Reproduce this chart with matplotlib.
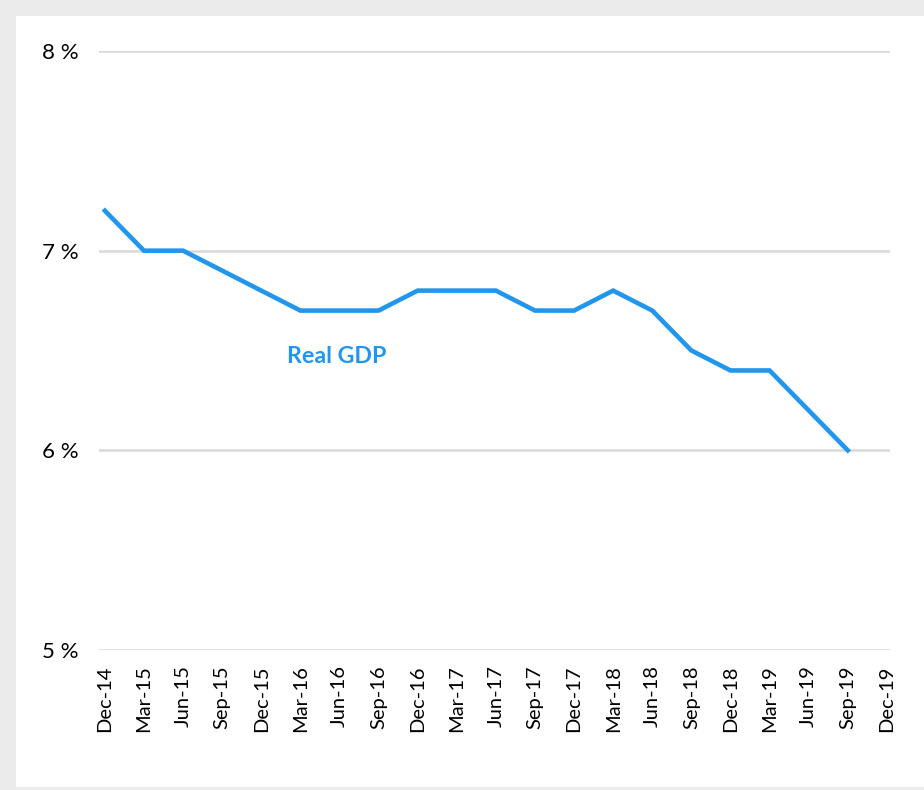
import matplotlib
matplotlib.use("Agg")
import matplotlib.pyplot as plt
from matplotlib.patches import Rectangle

quarters = ["Dec-14", "Mar-15", "Jun-15", "Sep-15", "Dec-15", "Mar-16", "Jun-16",
            "Sep-16", "Dec-16", "Mar-17", "Jun-17", "Sep-17", "Dec-17", "Mar-18",
            "Jun-18", "Sep-18", "Dec-18", "Mar-19", "Jun-19", "Sep-19", "Dec-19"]
real_gdp = [7.2, 7.0, 7.0, 6.9, 6.8, 6.7, 6.7, 6.7, 6.8, 6.8, 6.8, 6.7, 6.7,
            6.8, 6.7, 6.5, 6.4, 6.4, 6.2, 6.0]
y_ticks = [5, 6, 7, 8]

plt.rcParams['font.family'] = ['Lato', 'DejaVu Sans']
blue = '#2196ee'

fig = plt.figure(figsize=(9.24, 7.9), dpi=100)
fig.patch.set_facecolor('#ebebeb')
fig.patches.append(Rectangle((16 / 924, 3 / 790), 1, 771 / 790,
                             transform=fig.transFigure, facecolor='white',
                             edgecolor='none', zorder=-5))

ax = fig.add_axes([99 / 924, 1 - 650 / 790, 791 / 924, 599 / 790])
ax.set_zorder(2)
ax.set_facecolor('none')

x = list(range(len(real_gdp)))
ax.plot(x, real_gdp, color=blue, linewidth=3.3, solid_joinstyle='miter', zorder=3)

ax.set_xlim(-0.15, len(quarters) - 1 + 0.08)
ax.set_ylim(5, 8)
ax.set_xticks(range(len(quarters)))
ax.set_xticklabels(quarters, rotation=90, fontsize=14.5)
ax.set_yticks(y_ticks)
ax.set_yticklabels([f"{v} %" for v in y_ticks], fontsize=16)
ax.tick_params(axis='x', length=0, pad=11)
ax.tick_params(axis='y', length=0, pad=15)
ax.grid(axis='y', color='#d9d9d9', linewidth=1.8)
for s in ax.spines.values():
    s.set_visible(False)

ax.text(4.65, 6.47, "Real GDP", color=blue, fontsize=16.7, fontweight='bold',
        ha='left', va='center')

fig.savefig("out.png", dpi=100, facecolor=fig.get_facecolor())
